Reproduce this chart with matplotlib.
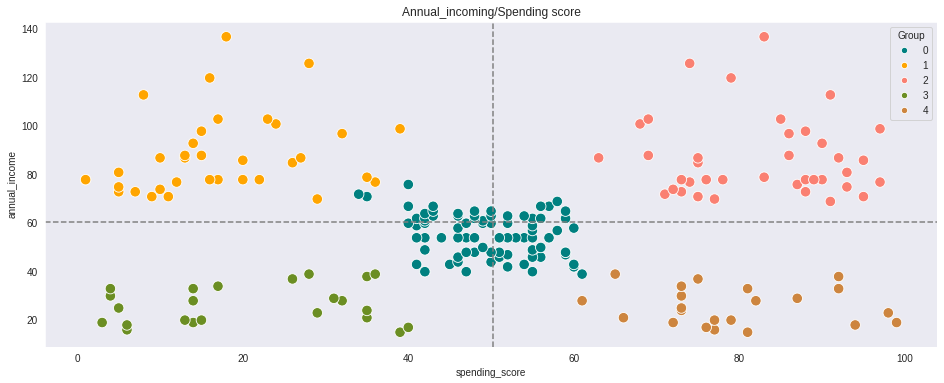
import matplotlib
matplotlib.use("Agg")
import matplotlib.pyplot as plt
import seaborn as sns
import pandas as pd

annual_income = [15, 15, 16, 16, 17, 17, 18, 18, 19, 19, 19, 19, 20, 20, 20, 20, 21, 21, 23, 23,
                 24, 24, 25, 25, 28, 28, 28, 28, 29, 29, 30, 30, 33, 33, 33, 33, 34, 34, 37, 37,
                 38, 38, 39, 39, 39, 39, 40, 40, 40, 40, 42, 42, 43, 43, 43, 43, 44, 44, 46, 46,
                 46, 46, 47, 47, 48, 48, 48, 48, 48, 48, 49, 49, 50, 50, 54, 54, 54, 54, 54, 54,
                 54, 54, 54, 54, 54, 54, 57, 57, 58, 58, 59, 59, 60, 60, 60, 60, 60, 60, 61, 61,
                 62, 62, 62, 62, 62, 62, 63, 63, 63, 63, 63, 63, 64, 64, 65, 65, 65, 65, 67, 67,
                 67, 67, 69, 69, 70, 70, 71, 71, 71, 71, 71, 71, 72, 72, 73, 73, 73, 73, 74, 74,
                 75, 75, 76, 76, 77, 77, 77, 77, 78, 78, 78, 78, 78, 78, 78, 78, 78, 78, 78, 78,
                 79, 79, 81, 81, 85, 85, 86, 86, 87, 87, 87, 87, 87, 87, 88, 88, 88, 88, 93, 93,
                 97, 97, 98, 98, 99, 99, 101, 101, 103, 103, 103, 103, 113, 113, 120, 120, 126, 126, 137, 137]

spending_score = [39, 81, 6, 77, 40, 76, 6, 94, 3, 72, 14, 99, 15, 77, 13, 79, 35, 66, 29, 98,
                  35, 73, 5, 73, 14, 82, 32, 61, 31, 87, 4, 73, 4, 92, 14, 81, 17, 73, 26, 75,
                  35, 92, 36, 61, 28, 65, 55, 47, 42, 42, 52, 60, 54, 60, 45, 41, 50, 46, 51, 46,
                  56, 55, 52, 59, 51, 59, 50, 48, 59, 47, 55, 42, 49, 56, 47, 54, 53, 48, 52, 42,
                  51, 55, 41, 44, 57, 46, 58, 55, 60, 46, 55, 41, 49, 40, 42, 52, 47, 50, 42, 49,
                  41, 48, 59, 55, 56, 42, 50, 46, 43, 48, 52, 54, 42, 46, 48, 50, 43, 59, 43, 57,
                  56, 40, 58, 91, 29, 77, 35, 95, 11, 75, 9, 75, 34, 71, 5, 88, 7, 73, 10, 72,
                  5, 93, 40, 87, 12, 97, 36, 74, 22, 90, 17, 88, 20, 76, 16, 89, 1, 78, 1, 73,
                  35, 83, 5, 93, 26, 75, 20, 95, 27, 63, 13, 75, 10, 92, 13, 86, 15, 69, 14, 90,
                  32, 86, 15, 88, 39, 97, 24, 68, 17, 85, 23, 69, 8, 91, 16, 79, 28, 74, 18, 83]

group = [3, 4, 3, 4, 3, 4, 3, 4, 3, 4, 3, 4, 3, 4, 3, 4, 3, 4, 3, 4,
         3, 4, 3, 4, 3, 4, 3, 4, 3, 4, 3, 4, 3, 4, 3, 4, 3, 4, 3, 4,
         3, 4, 3, 0, 3, 4, 0, 0, 0, 0, 0, 0, 0, 0, 0, 0, 0, 0, 0, 0,
         0, 0, 0, 0, 0, 0, 0, 0, 0, 0, 0, 0, 0, 0, 0, 0, 0, 0, 0, 0,
         0, 0, 0, 0, 0, 0, 0, 0, 0, 0, 0, 0, 0, 0, 0, 0, 0, 0, 0, 0,
         0, 0, 0, 0, 0, 0, 0, 0, 0, 0, 0, 0, 0, 0, 0, 0, 0, 0, 0, 0,
         0, 0, 0, 2, 1, 2, 0, 2, 1, 2, 1, 2, 0, 2, 1, 2, 1, 2, 1, 2,
         1, 2, 0, 2, 1, 2, 1, 2, 1, 2, 1, 2, 1, 2, 1, 2, 1, 2, 1, 2,
         1, 2, 1, 2, 1, 2, 1, 2, 1, 2, 1, 2, 1, 2, 1, 2, 1, 2, 1, 2,
         1, 2, 1, 2, 1, 2, 1, 2, 1, 2, 1, 2, 1, 2, 1, 2, 1, 2, 1, 2]

group_colors = ["teal", "orange", "salmon", "olivedrab", "peru"]

df = pd.DataFrame({"annual_income": annual_income,
                   "spending_score": spending_score,
                   "Group": group})

sns.set_style("dark")
plt.rcParams["font.family"] = ["Liberation Sans", "DejaVu Sans"]

fig = plt.figure(figsize=(944 / 72, 383 / 72))
ax = fig.add_axes([0.0477, 0.094, 0.945, 0.8486])
sns.scatterplot(data=df, x="spending_score", y="annual_income", hue="Group",
                palette=group_colors, s=110, ax=ax, legend="full")
ax.axvline(df["spending_score"].mean(), color="grey", linestyle="--", linewidth=1.5)
ax.axhline(df["annual_income"].mean(), color="grey", linestyle="--", linewidth=1.5)
ax.set_title("Annual_incoming/Spending score", fontsize=12)
ax.set_xlabel("spending_score", fontsize=10)
ax.set_ylabel("annual_income", fontsize=10)
ax.tick_params(labelsize=10)
ax.legend(title="Group", loc="upper right", fontsize=10, title_fontsize=10,
          markerscale=0.6)
fig.savefig("out.png", dpi=72)
